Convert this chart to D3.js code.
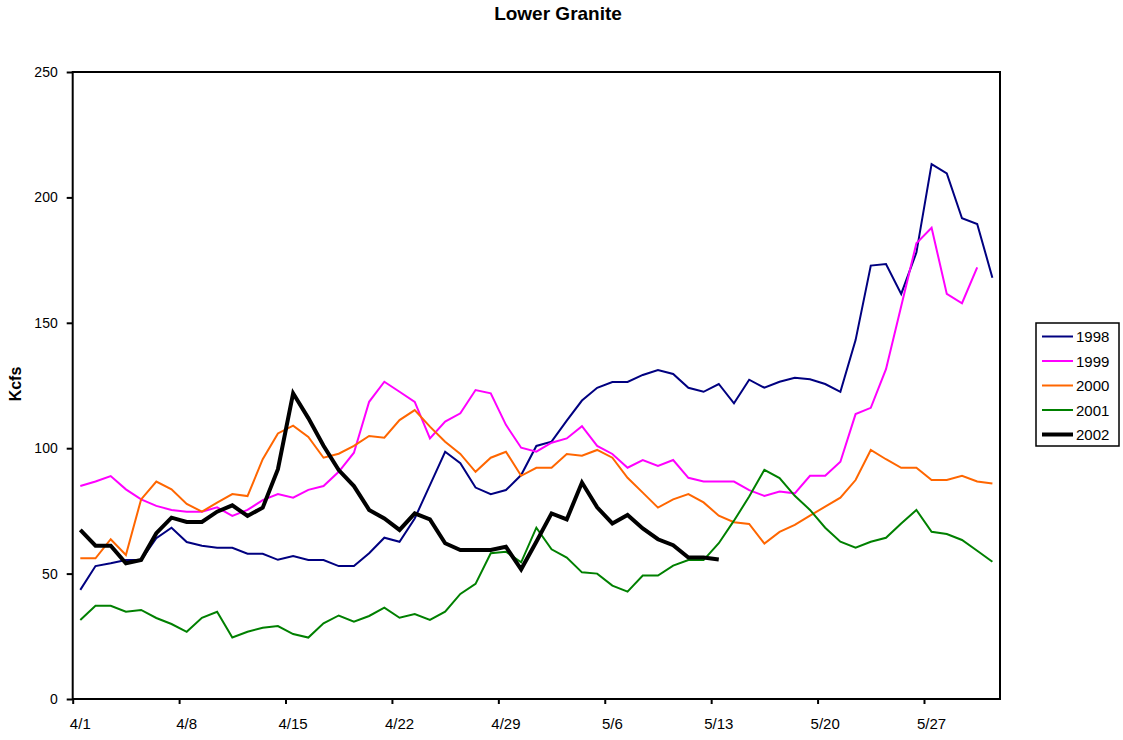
<!DOCTYPE html>
<html>
<head>
<meta charset="utf-8">
<script src="https://cdn.jsdelivr.net/npm/d3@7"></script>
<style>
  body { margin: 0; background: #fff; }
  svg { font-family: "Liberation Sans", Arial, sans-serif; }
</style>
</head>
<body>
<div class="chart"></div>
<script>
var days = [
  `4/1`,`4/2`,`4/3`,`4/4`,`4/5`,`4/6`,`4/7`,`4/8`,`4/9`,`4/10`,
  `4/11`,`4/12`,`4/13`,`4/14`,`4/15`,`4/16`,`4/17`,`4/18`,`4/19`,`4/20`,
  `4/21`,`4/22`,`4/23`,`4/24`,`4/25`,`4/26`,`4/27`,`4/28`,`4/29`,`4/30`,
  `5/1`,`5/2`,`5/3`,`5/4`,`5/5`,`5/6`,`5/7`,`5/8`,`5/9`,`5/10`,
  `5/11`,`5/12`,`5/13`,`5/14`,`5/15`,`5/16`,`5/17`,`5/18`,`5/19`,`5/20`,
  `5/21`,`5/22`,`5/23`,`5/24`,`5/25`,`5/26`,`5/27`,`5/28`,`5/29`,`5/30`,
  `5/31`
];
var dayLabels = [`4/1`,`4/8`,`4/15`,`4/22`,`4/29`,`5/6`,`5/13`,`5/20`,`5/27`];
var yTicks = [0, 50, 100, 150, 200, 250];

var years = [`1998`,`1999`,`2000`,`2001`,`2002`];
var colors = [`#000080`,`#ff00ff`,`#ff6600`,`#008000`,`#000000`];

var flow1998 = [43.5,53.0,54.1,55.4,55.4,64.1,68.3,62.6,61.1,60.3,
  60.3,57.9,57.9,55.5,57.0,55.4,55.4,53.0,53.0,58.1,
  64.3,62.7,72.0,85.3,98.6,94.0,84.3,81.7,83.3,89.3,
  100.9,102.6,111.0,119.0,124.1,126.4,126.4,129.2,131.2,129.6,
  124.1,122.5,125.6,117.9,127.3,124.1,126.5,128.1,127.5,125.6,
  122.5,143.1,172.8,173.4,161.5,178.0,213.3,209.6,191.7,189.4,
  168.0];
var flow1999 = [84.9,86.7,88.9,83.6,79.6,77.0,75.4,74.7,74.7,76.4,
  73.0,75.4,79.3,81.7,80.3,83.4,84.9,90.6,98.2,118.5,
  126.5,122.5,118.5,103.9,110.6,113.9,123.2,121.9,109.3,100.2,
  98.6,102.2,103.9,108.8,100.9,97.7,92.2,95.3,92.9,95.3,
  88.2,86.7,86.7,86.7,83.3,81.0,82.7,82.0,89.0,89.0,
  94.6,113.6,116.1,131.5,156.6,181.7,187.9,161.5,157.8,172.1,
  null];
var flow2000 = [56.1,56.1,63.7,57.4,79.6,86.7,83.6,77.8,74.7,78.3,
  81.7,80.9,95.6,105.9,109.0,104.5,96.2,97.8,100.9,104.9,
  104.2,111.2,115.2,108.6,102.6,97.7,90.6,96.2,98.6,89.0,
  92.2,92.2,97.7,97.0,99.3,96.2,88.2,82.3,76.3,79.6,
  81.7,78.4,73.1,70.5,69.8,62.0,66.6,69.4,73.1,76.7,
  80.3,87.3,99.3,95.6,92.2,92.2,87.3,87.3,89.0,86.7,
  85.9];
var flow2001 = [31.5,37.2,37.2,34.8,35.5,32.3,29.9,26.8,32.4,34.8,
  24.5,26.8,28.4,29.1,25.9,24.5,30.2,33.3,30.8,33.1,
  36.4,32.4,33.9,31.5,34.8,41.9,45.9,58.1,58.7,54.5,
  68.3,59.7,56.4,50.5,50.0,45.2,42.8,49.2,49.2,53.2,
  55.4,55.4,62.1,71.1,80.7,91.4,88.1,81.0,75.4,68.3,
  62.7,60.3,62.7,64.3,70.0,75.4,66.7,65.8,63.4,59.1,
  54.7];
var flow2002 = [67.4,61.1,61.1,54.1,55.4,66.1,72.3,70.6,70.6,74.7,
  77.2,73.0,76.3,91.6,121.9,112.0,101.0,91.3,84.9,75.4,
  72.0,67.4,74.0,71.6,62.1,59.4,59.4,59.4,60.7,51.7,
  62.7,74.0,71.6,86.3,76.4,70.0,73.4,68.0,63.7,61.3,
  56.4,56.4,55.6,null,null,null,null,null,null,null,
  null,null,null,null,null,null,null,null,null,null,
  null];

var flows = [flow1998, flow1999, flow2000, flow2001, flow2002];

var margin = {top: 72, bottom: 41, left: 72.7, right: 123};
var fullWidth = 1123;
var fullHeight = 740;
var width = fullWidth - margin.left - margin.right;
var height = fullHeight - margin.top - margin.bottom;

var svg = d3.select(`.chart`)
    .append(`svg`)
    .attr(`width`, fullWidth)
    .attr(`height`, fullHeight);

svg.append(`text`)
    .attr(`x`, 558)
    .attr(`y`, 20)
    .attr(`text-anchor`, `middle`)
    .style(`font-size`, `19px`)
    .style(`font-weight`, `bold`)
    .text(`Lower Granite`);

svg.append(`text`)
    .attr(`transform`, `translate(21, 384) rotate(-90)`)
    .attr(`text-anchor`, `middle`)
    .style(`font-size`, `16px`)
    .style(`font-weight`, `bold`)
    .text(`Kcfs`);

var g = svg.append(`g`)
    .attr(`transform`, `translate(${margin.left},${margin.top})`);

// category axis: one band per day, ticks on band edges every 7 days
var xScale = d3.scaleLinear()
    .domain([0, days.length])
    .range([0, width]);

var yScale = d3.scaleLinear()
    .domain([0, 250])
    .range([height, 0]);

var yAxis = d3.axisLeft(yScale)
    .tickValues(yTicks)
    .tickSize(6)
    .tickPadding(9);
g.append(`g`)
    .call(yAxis)
    .call(a => a.select(`.domain`).remove())
    .call(a => a.selectAll(`line`).attr(`stroke-width`, 2))
    .call(a => a.selectAll(`text`).style(`font-size`, `14px`).attr(`fill`, `#000`)
        .attr(`font-family`, null));

var xAxis = d3.axisBottom(xScale)
    .tickValues(dayLabels.map(l => days.indexOf(l)))
    .tickSize(5)
    .tickFormat(``);
g.append(`g`)
    .attr(`transform`, `translate(0, ${height})`)
    .call(xAxis)
    .call(a => a.select(`.domain`).remove())
    .call(a => a.selectAll(`line`).attr(`stroke-width`, 2));

g.selectAll(`.xlabel`)
    .data(dayLabels)
    .enter()
    .append(`text`)
    .attr(`class`, `xlabel`)
    .attr(`x`, d => xScale(days.indexOf(d) + 0.5))
    .attr(`y`, height + 30)
    .attr(`text-anchor`, `middle`)
    .style(`font-size`, `15px`)
    .text(d => d);

var line = d3.line()
    .defined(d => d != null)
    .x((d, i) => xScale(i + 0.5))
    .y(d => yScale(d));

g.selectAll(`.line`)
    .data(flows)
    .enter()
    .append(`path`)
    .attr(`class`, `line`)
    .attr(`d`, d => line(d))
    .style(`stroke`, (d, i) => colors[i])
    .style(`fill`, `none`)
    .style(`stroke-width`, (d, i) => i === 4 ? 4 : 2)
    .style(`stroke-linejoin`, `miter`);

g.append(`rect`)
    .attr(`width`, width)
    .attr(`height`, height)
    .style(`fill`, `none`)
    .style(`stroke`, `#000`)
    .style(`stroke-width`, 2);

// legend
var legend = svg.append(`g`)
    .attr(`transform`, `translate(1036, 323)`);

legend.append(`rect`)
    .attr(`width`, 83)
    .attr(`height`, 123)
    .style(`fill`, `#fff`)
    .style(`stroke`, `#000`)
    .style(`stroke-width`, 1.5);

var item = legend.selectAll(`.item`)
    .data(years)
    .enter()
    .append(`g`)
    .attr(`class`, `item`)
    .attr(`transform`, (d, i) => `translate(0, ${13.5 + i * 24.5})`);

item.append(`line`)
    .attr(`x1`, 6)
    .attr(`x2`, 37)
    .style(`stroke`, (d, i) => colors[i])
    .style(`stroke-width`, (d, i) => i === 4 ? 4 : 2);

item.append(`text`)
    .attr(`x`, 40)
    .attr(`y`, 5.5)
    .style(`font-size`, `15px`)
    .text(d => d);
</script>
</body>
</html>
